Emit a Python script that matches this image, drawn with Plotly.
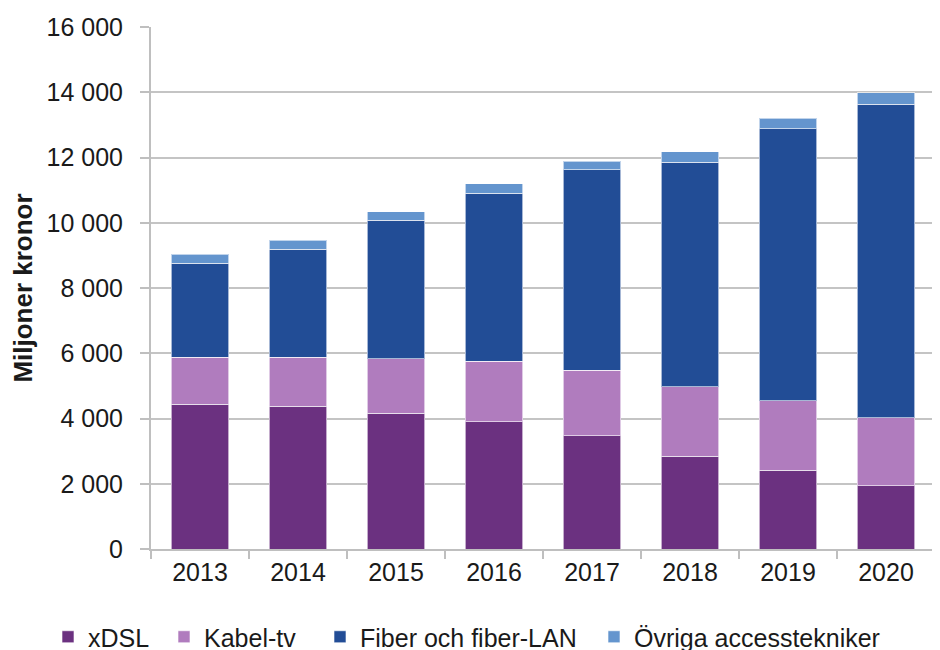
import plotly.graph_objects as go

years = ["2013", "2014", "2015", "2016", "2017", "2018", "2019", "2020"]
xdsl = [4430, 4380, 4160, 3900, 3470, 2840, 2410, 1940]
kabel = [1450, 1500, 1670, 1850, 2010, 2130, 2130, 2090]
fiber = [2880, 3310, 4250, 5160, 6150, 6880, 8340, 9600]
ovriga = [270, 270, 250, 280, 260, 320, 320, 360]

series = [
    ("xDSL", xdsl, "#6B3180"),
    ("Kabel-tv", kabel, "#B07CBE"),
    ("Fiber och fiber-LAN", fiber, "#224D96"),
    ("Övriga accesstekniker", ovriga, "#6495CE"),
]

# page body has an 8px margin; figure is sized to fit the window
W, H = 932, 642
legend_ids = ["legend", "legend2", "legend3", "legend4"]
legend_x = [48, 164, 320, 594]  # window px of legend left edges

fig = go.Figure()
for (name, vals, col), lid in zip(series, legend_ids):
    fig.add_trace(go.Bar(
        x=years, y=vals, name=name, legend=lid, showlegend=True,
        marker=dict(color=col, line=dict(color="rgba(255,255,255,0.6)", width=1)),
    ))

font_family = "Liberation Sans, Arial, sans-serif"
legend_common = dict(
    orientation="h", xanchor="left", xref="container",
    y=(H - 629) / H, yanchor="middle", yref="container",
    font=dict(size=25), itemwidth=30, bgcolor="rgba(0,0,0,0)",
    visible=True,
)
legends = {}
for lid, lx in zip(legend_ids, legend_x):
    legends[lid] = dict(legend_common, x=(lx - 8) / W)

fig.update_layout(
    showlegend=True,
    barmode="stack",
    bargap=0.41,
    width=W, height=H,
    margin=dict(l=143, r=5, t=19, b=101, autoexpand=False),
    plot_bgcolor="white", paper_bgcolor="white",
    font=dict(family=font_family, size=25, color="#1a1a1a"),
    xaxis=dict(
        showline=True, linecolor="#BFBFBF", linewidth=2,
        ticks="outside", tickcolor="#BFBFBF", ticklen=8, tickwidth=2,
        tickson="boundaries", tickfont=dict(size=25), automargin=False,
    ),
    yaxis=dict(
        range=[0, 16000], dtick=2000, tickformat=",d",
        showline=True, linecolor="#BFBFBF", linewidth=2,
        ticks="outside", tickcolor="#BFBFBF", ticklen=9, tickwidth=2,
        ticklabelstandoff=12,
        showgrid=True, gridcolor="#C4C4C4", gridwidth=2,
        zeroline=False, tickfont=dict(size=25), automargin=False,
        title=dict(text="<b>Miljoner kronor</b>", font=dict(size=26), standoff=6),
    ),
    separators=", ",
    **legends,
)

fig.write_html("out.html")
